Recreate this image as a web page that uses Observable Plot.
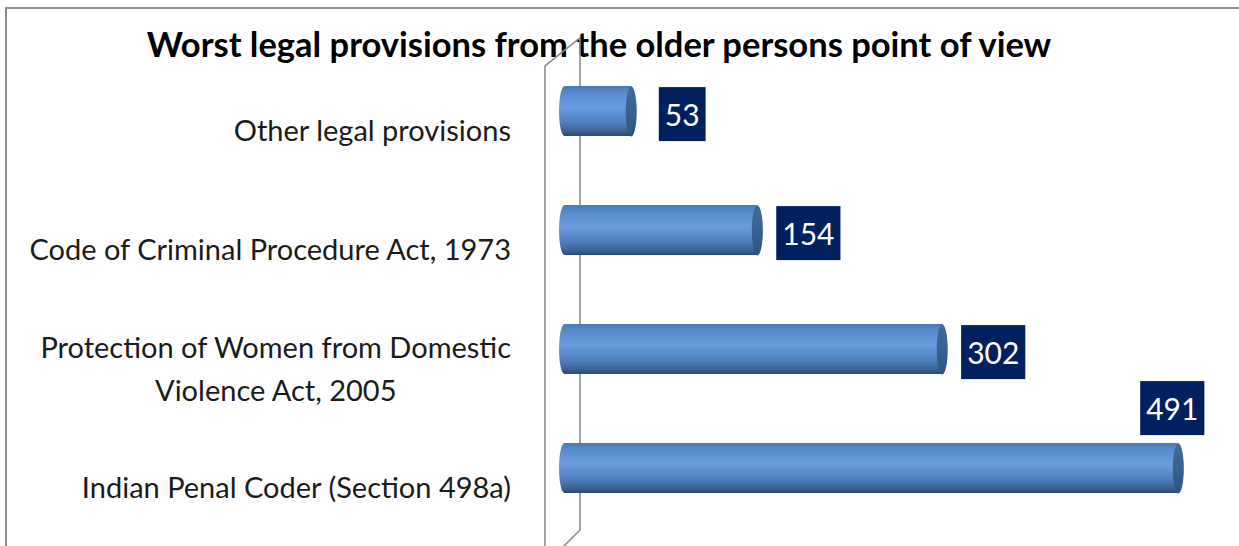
<!DOCTYPE html>
<html><head><meta charset="utf-8">
<script src="https://cdn.jsdelivr.net/npm/d3@7"></script>
<script src="https://cdn.jsdelivr.net/npm/@observablehq/plot@0.6"></script>
<style>
html,body{margin:0;padding:0;background:#fff;}
#wrap{position:relative;width:1239px;height:546px;overflow:hidden;font-family:Lato,sans-serif;}
#border{position:absolute;left:5px;top:7px;width:1300px;height:600px;border-left:2px solid #8c8c8c;border-top:2px solid #8c8c8c;}
#title{position:absolute;left:0;top:26.5px;width:1198px;text-align:center;font-weight:bold;font-size:34.5px;line-height:34.5px;color:#000;white-space:nowrap;}
#chart{position:absolute;left:0;top:0;}
</style>
</head><body>
<div id="wrap">
  <div id="border"></div>
  <div id="title">Worst legal provisions from the older persons point of view</div>
  <div id="chart"></div>
</div>
<script>
const categories = [
  "Other legal provisions",
  "Code of Criminal Procedure Act, 1973",
  "Protection of Women from Domestic\nViolence Act, 2005",
  "Indian Penal Coder (Section 498a)"
];
const values = [53, 154, 302, 491];
const data = categories.map((c, i) => ({category: c, value: values[i]}));
const maxV = d3.max(values);

const capSymbol = {
  draw(ctx, size) {
    const rx = 5.5, ry = 25, k = 0.5523;
    ctx.moveTo(rx, 0);
    ctx.bezierCurveTo(rx, ry * k, rx * k, ry, 0, ry);
    ctx.bezierCurveTo(-rx * k, ry, -rx, ry * k, -rx, 0);
    ctx.bezierCurveTo(-rx, -ry * k, -rx * k, -ry, 0, -ry);
    ctx.bezierCurveTo(rx * k, -ry, rx, -ry * k, rx, 0);
    ctx.closePath();
  }
};

const plot = Plot.plot({
  width: 1239,
  height: 546,
  marginLeft: 564.5,
  marginRight: 0,
  marginTop: 73.5,
  marginBottom: 40,
  style: {background: "transparent", fontFamily: "Lato, sans-serif", fontSize: "29px", color: "#1b1b1b"},
  x: {domain: [0, 540], axis: null},
  y: {domain: categories, paddingInner: 0.582, paddingOuter: 0.1, label: null, axis: null},
  marks: [
    Plot.axisY({tickSize: 0, tickPadding: 54, dy: 16, lineHeight: 1.49, fontSize: 29, label: null, fill: "#1b1b1b"}),
    Plot.barX(data, {x: "value", y: "category", insetLeft: -5.5, insetRight: -5.5, rx: 5.5, ry: 25, fill: "url(#cylGrad)"}),
    Plot.dot(data, {x: "value", y: "category", symbol: capSymbol, r: 5, fill: "url(#capGrad)", stroke: "none"}),
    Plot.text(data, {filter: d => d.value < maxV, x: "value", y: "category", text: d => String(d.value), dx: 51, dy: 5, fill: "white", fontSize: 30}),
    Plot.text(data, {filter: d => d.value === maxV, x: "value", y: "category", text: d => String(d.value), dx: -6, dy: -58, fill: "white", fontSize: 30})
  ]
});

document.getElementById("chart").append(plot);
const svg = d3.select(plot);

// gradients
const defs = svg.insert("defs", ":first-child");
const g1 = defs.append("linearGradient").attr("id", "cylGrad").attr("x1", 0).attr("y1", 0).attr("x2", 0).attr("y2", 1);
[[0, "#4a79b5"], [0.12, "#578acb"], [0.42, "#6a9ddf"], [0.72, "#5080bf"], [0.9, "#3c6296"], [1, "#2b4870"]]
  .forEach(([o, c]) => g1.append("stop").attr("offset", o).attr("stop-color", c));
const g2 = defs.append("linearGradient").attr("id", "capGrad").attr("x1", 0).attr("y1", 0).attr("x2", 0).attr("y2", 1);
[[0, "#416a9d"], [0.5, "#3b6190"], [1, "#30527c"]]
  .forEach(([o, c]) => g2.append("stop").attr("offset", o).attr("stop-color", c));

// 3D wall behind bars
const x0 = plot.scale("x").apply(0);
const wall = d3.path();
wall.moveTo(x0 - 19.5, 570);
wall.lineTo(x0 - 19.5, 66);
wall.lineTo(x0 + 15.5, 38);
wall.lineTo(x0 + 15.5, 530);
wall.lineTo(x0 - 19.5, 565);
svg.insert("path", "defs + *").attr("d", wall.toString()).attr("fill", "none").attr("stroke", "#8c8c8c").attr("stroke-width", 1.6);

// value label boxes (text marks only, not the axis)
svg.selectAll('g[aria-label="text"] text').each(function () {
  const b = this.getBBox();
  const padX = 6, h = 54;
  const cy = b.y + b.height / 2;
  const r = d3.select(this.parentNode).insert("rect", () => this)
    .attr("x", b.x - padX).attr("width", b.width + 2 * padX)
    .attr("y", cy - h / 2).attr("height", h)
    .attr("fill", "#002060");
  const t = this.getAttribute("transform");
  if (t) r.attr("transform", t);
});

// center multi-line category labels within their block
svg.selectAll('g[aria-label="y-axis tick label"] text').each(function () {
  const b = this.getBBox();
  const cx = b.x + b.width / 2;
  this.setAttribute("text-anchor", "middle");
  const spans = this.querySelectorAll("tspan");
  if (spans.length) spans.forEach(s => s.setAttribute("x", cx));
  else this.setAttribute("x", cx);
});
</script>
</body></html>
